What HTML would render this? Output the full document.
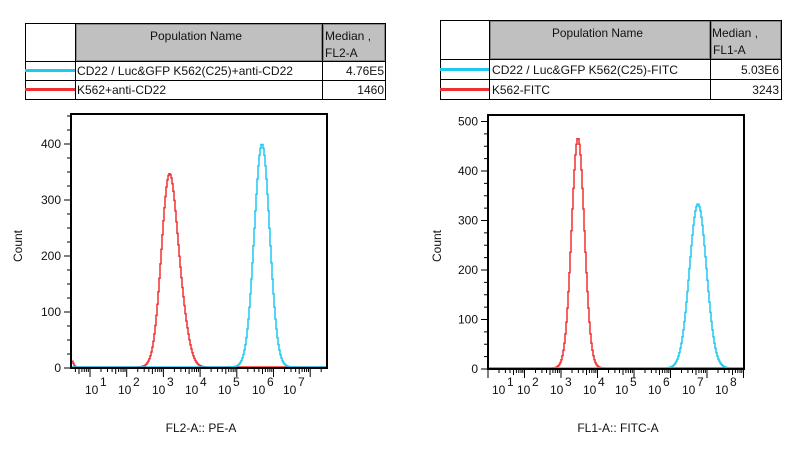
<!DOCTYPE html>
<html><head><meta charset="utf-8"><style>
body{margin:0;background:#fff;width:812px;height:453px;overflow:hidden;font-family:"Liberation Sans",Arial,sans-serif}
svg{position:absolute;left:0;top:0}
</style></head><body>
<svg id="s" width="812" height="453" xmlns="http://www.w3.org/2000/svg" font-family="Liberation Sans, Arial, sans-serif">
<g stroke="#000" stroke-width="1" fill="none">
<rect x="25.5" y="23.5" width="360" height="76"/>
<line x1="75.5" y1="23.5" x2="75.5" y2="99.5"/><line x1="322.5" y1="23.5" x2="322.5" y2="99.5"/>
<line x1="25.5" y1="61.5" x2="385.5" y2="61.5"/><line x1="25.5" y1="80.5" x2="385.5" y2="80.5"/>
</g>
<rect x="76.5" y="24.5" width="245" height="36" fill="#c0c0c0" stroke="#888"/>
<rect x="323.5" y="24.5" width="61" height="36" fill="#c0c0c0" stroke="#888"/>
<line x1="25" y1="70.5" x2="75" y2="70.5" stroke="#1ec8f0" stroke-width="3"/>
<line x1="25" y1="89.5" x2="75" y2="89.5" stroke="#f03030" stroke-width="3"/>
<g font-size="12" fill="#111">
<text x="150" y="40" textLength="92" lengthAdjust="spacingAndGlyphs">Population Name</text>
<text x="325" y="40">Median ,</text><text x="325" y="57">FL2-A</text>
<text x="77" y="75" textLength="216" lengthAdjust="spacingAndGlyphs">CD22 / Luc&amp;GFP K562(C25)+anti-CD22</text>
<text x="384" y="75" text-anchor="end">4.76E5</text>
<text x="77" y="94" textLength="89" lengthAdjust="spacingAndGlyphs">K562+anti-CD22</text>
<text x="384" y="94" text-anchor="end">1460</text>
</g>
<g stroke="#000" stroke-width="1" fill="none">
<rect x="440.5" y="20.5" width="341" height="79"/>
<line x1="489.5" y1="20.5" x2="489.5" y2="99.5"/><line x1="710.5" y1="20.5" x2="710.5" y2="99.5"/>
<line x1="440.5" y1="59.5" x2="781.5" y2="59.5"/><line x1="440.5" y1="79.5" x2="781.5" y2="79.5"/>
</g>
<rect x="490.5" y="21.5" width="219" height="37" fill="#c0c0c0" stroke="#888"/>
<rect x="711.5" y="21.5" width="69" height="37" fill="#c0c0c0" stroke="#888"/>
<line x1="440" y1="69.5" x2="489" y2="69.5" stroke="#1ec8f0" stroke-width="3"/>
<line x1="440" y1="89.5" x2="489" y2="89.5" stroke="#f03030" stroke-width="3"/>
<g font-size="12" fill="#111">
<text x="552" y="37" textLength="91" lengthAdjust="spacingAndGlyphs">Population Name</text>
<text x="712" y="37">Median ,</text><text x="713" y="54">FL1-A</text>
<text x="492" y="74" textLength="186" lengthAdjust="spacingAndGlyphs">CD22 / Luc&amp;GFP K562(C25)-FITC</text>
<text x="779" y="74" text-anchor="end">5.03E6</text>
<text x="492" y="94" textLength="58" lengthAdjust="spacingAndGlyphs">K562-FITC</text>
<text x="779" y="94" text-anchor="end">3243</text>
</g>
<g font-size="12" fill="#111">
<text x="201" y="432" text-anchor="middle">FL2-A:: PE-A</text>
<text x="618" y="432" text-anchor="middle">FL1-A:: FITC-A</text>
<text transform="translate(22,246) rotate(-90)" text-anchor="middle">Count</text>
<text transform="translate(441,246) rotate(-90)" text-anchor="middle">Count</text>
</g>
<g id="dyn"></g>
</svg>
<script>
var g=document.getElementById("dyn"),h="";
function plot(L,R,T,B,ppu,ymax,d0,dsp,labels,curves){
  curves.forEach(function(c){
    var p="M"+c.x0+","+(B-1);
    for(var x=c.x0;x<c.x1;x++){
      var y=0;c.g.forEach(function(q){y+=q[0]*Math.exp(-Math.pow((x+0.5-q[1])/q[2],2)/2);});
      var yy=(B-1-y).toFixed(1);p+=" L"+x+","+yy+" L"+(x+1)+","+yy;
    }
    p+=" L"+c.x1+","+(B-1);
    h+='<path d="'+p+'" fill="none" stroke="'+c.col+'" stroke-width="1.5"/>';
  });
  h+='<rect x="'+L+'" y="'+T+'" width="'+(R-L)+'" height="'+(B-T)+'" fill="none" stroke="#000" stroke-width="2"/>';
  for(var v=0;v<=ymax;v+=25){var y=B-v*ppu;if(y<T)break;var M=v%100==0;
    h+='<line x1="'+(L-(M?7:4))+'" y1="'+y+'" x2="'+L+'" y2="'+y+'" stroke="#000"/>';
    if(M)h+='<text x="'+(L-10)+'" y="'+(y+4)+'" font-size="12" text-anchor="end" fill="#111">'+v+'</text>';}
  for(var d=-1;d<12;d++){for(var k=1;k<10;k++){var x=d0+(d+Math.log10(k))*dsp;if(x<L||x>R)continue;
    h+='<line x1="'+x.toFixed(1)+'" y1="'+B+'" x2="'+x.toFixed(1)+'" y2="'+(B+(k==1?9:(k==5?6:4)))+'" stroke="#000"/>';}}
  labels.forEach(function(lx,i){
    h+='<text x="'+lx+'" y="394" font-size="12" fill="#111">10</text><text x="'+(lx+15)+'" y="386" font-size="12" fill="#111">'+(i+1)+'</text>';});
}
plot(71,327,114,368,224/400,450,90,36.7,[85,118,152,185,218,252,283],[
 {col:"#f03030",x0:71,x1:327,g:[[186,169,7.8],[38,182,7],[6,72,1.5]]},
 {col:"#1ec8f0",x0:71,x1:327,g:[[223,262,7.7]]}]);
plot(488,744,115,369,0.495,520,488,36.5,[492,517,550,583,615,648,682,715],[
 {col:"#f03030",x0:488,x1:744,g:[[230,578,6.4]]},
 {col:"#1ec8f0",x0:488,x1:744,g:[[164,698,8.5]]}]);
g.innerHTML=h;
</script>
</body></html>
